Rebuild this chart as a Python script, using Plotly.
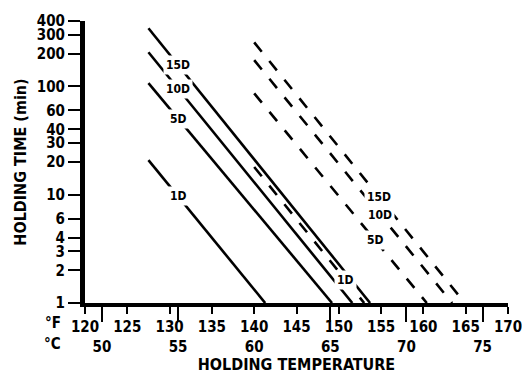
import plotly.graph_objects as go
import numpy as np

# ---- data ----
labels = ["1D", "5D", "10D", "15D"]

# solid lines: start temperature (°F), start holding time (min), end temperature at 1 min
solid_start_F = [127.5, 127.5, 127.5, 127.5]
solid_start_min = [20.8, 107, 206, 343]
solid_end_F = [141.3, 149.2, 151.6, 153.7]

# dashed lines
dashed_start_F = [140.0, 140.0, 140.0, 140.0]
dashed_start_min = [18, 86, 174, 254]
dashed_end_F = [153.0, 160.4, 163.4, 164.9]
end_min = 1

# label positions along each line (°F)
solid_label_F = [131.0, 131.0, 131.0, 131.0]
dashed_label_F = [150.8, 154.3, 154.9, 154.8]

# axis ticks
y_ticks = [1, 2, 3, 4, 6, 10, 20, 30, 40, 60, 100, 200, 300, 400]
f_ticks = [120, 125, 130, 135, 140, 145, 150, 155, 160, 165, 170]
c_ticks = [50, 55, 60, 65, 70, 75]

FONT = "Liberation Sans Narrow, Arial Narrow, DejaVu Sans Condensed, sans-serif"

fig = go.Figure()

def add_lines(starts_F, starts_t, ends_F, dash):
    for sF, st, eF in zip(starts_F, starts_t, ends_F):
        fig.add_trace(go.Scatter(
            x=[sF, eF], y=[st, end_min], mode="lines",
            line=dict(color="black", width=2.6, dash=dash),
            hoverinfo="skip", showlegend=False))

add_lines(solid_start_F, solid_start_min, solid_end_F, "solid")
add_lines(dashed_start_F, dashed_start_min, dashed_end_F, "12px,12px")

def label_on_line(sF, st, eF, lF, text):
    ls = np.log10(st)
    frac = (lF - sF) / (eF - sF)
    ly = ls + frac * (np.log10(end_min) - ls)
    fig.add_annotation(x=lF, y=ly, text=text, showarrow=False,
                       font=dict(family=FONT, size=12, color="black", weight="bold"),
                       bgcolor="white", borderpad=2, xanchor="center", yanchor="middle")

for i, lab in enumerate(labels):
    label_on_line(solid_start_F[i], solid_start_min[i], solid_end_F[i], solid_label_F[i], lab)
    label_on_line(dashed_start_F[i], dashed_start_min[i], dashed_end_F[i], dashed_label_F[i], lab)

# combined two-row x tick labels: °F row and °C row
c_in_F = [c * 9 / 5 + 32 for c in c_ticks]
tick_map = {f: str(f) for f in f_ticks}
for c, f in zip(c_ticks, c_in_F):
    if f in tick_map:
        tick_map[f] = tick_map[f] + "<br>" + str(c)
    else:
        tick_map[f] = "<br>" + str(c)
x_tickvals = sorted(tick_map)
x_ticktext = [tick_map[v] for v in x_tickvals]
c_only = [f for f in c_in_F if f not in f_ticks]

xtickfont = dict(family=FONT, size=15, color="black", weight="bold")
ytickfont = dict(family=FONT, size=15, color="black", weight="bold")

# the page adds an 8px body margin, so the figure is 8px smaller than the window
fig.update_layout(
    template="none",
    width=522, height=368,
    margin=dict(l=77, r=22, t=13, b=73, autoexpand=False),
    paper_bgcolor="white", plot_bgcolor="white",
    xaxis=dict(
        range=[120, 170], showgrid=False, zeroline=False, automargin=False,
        showline=True, linecolor="black", linewidth=4,
        tickmode="array", tickvals=x_tickvals, ticktext=x_ticktext, tickangle=0,
        ticks="outside", ticklen=7, tickwidth=2, tickcolor="black",
        tickfont=xtickfont,
        minor=dict(tickmode="array", tickvals=c_only, ticks="outside",
                   ticklen=15, tickwidth=2, tickcolor="black", showgrid=False),
        title=dict(text="HOLDING TEMPERATURE", standoff=4,
                   font=dict(family=FONT, size=16, color="black", weight="bold")),
    ),
    yaxis=dict(
        type="log", range=[0, np.log10(400)], showgrid=False, zeroline=False,
        automargin=False,
        showline=True, linecolor="black", linewidth=5,
        tickmode="array", tickvals=y_ticks, ticktext=[str(v) for v in y_ticks],
        ticks="outside", ticklen=12, tickwidth=2, tickcolor="black",
        tickfont=ytickfont,
        title=dict(text="HOLDING TIME (min)", standoff=8,
                   font=dict(family=FONT, size=16, color="black", weight="bold")),
    ),
)

# unit markers for the two tick rows
for txt, yp in [("°F", -0.071), ("°C", -0.145)]:
    fig.add_annotation(xref="paper", yref="paper", x=-0.076, y=yp, text=txt,
                       showarrow=False, xanchor="center", yanchor="middle",
                       font=dict(family=FONT, size=15, color="black", weight="bold"))

fig.write_html("out.html")
